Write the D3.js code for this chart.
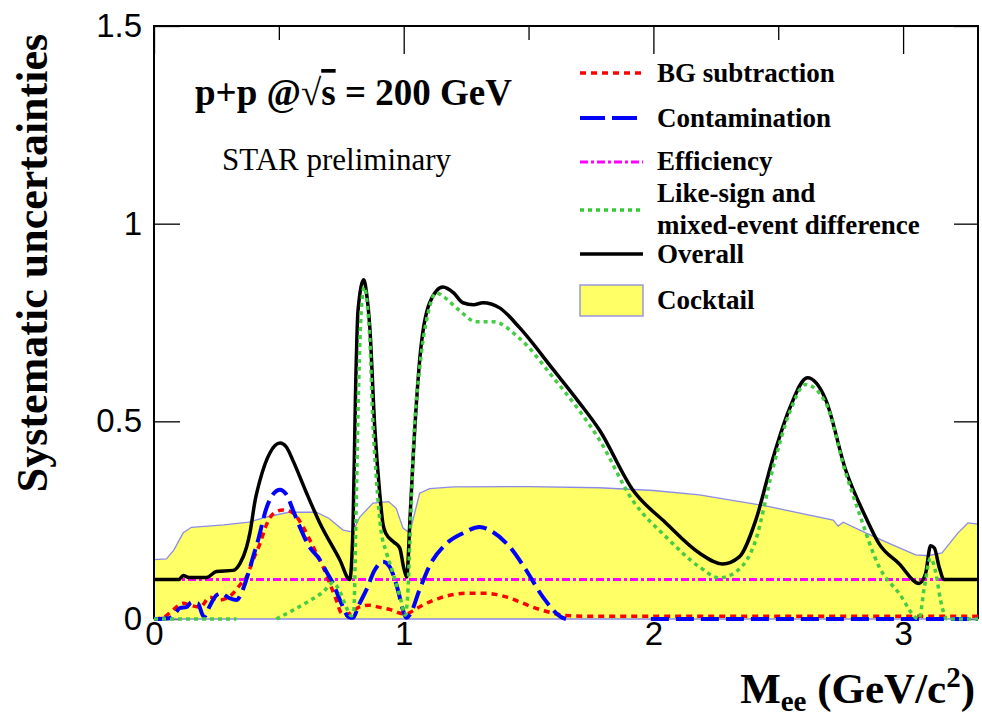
<!DOCTYPE html>
<html>
<head>
<meta charset="utf-8">
<script src="https://cdn.jsdelivr.net/npm/d3@7/dist/d3.min.js"></script>
<style>
  html, body { margin: 0; padding: 0; background: #fff; }
  svg { display: block; }
  .serif { font-family: "Liberation Serif", "Times New Roman", serif; }
  .tick text { font-family: "Liberation Sans", Arial, sans-serif; font-size: 33px; fill: #000; }
</style>
</head>
<body>
<svg id="chart" width="982" height="720"></svg>
<script>
// Invariant mass axis (GeV/c^2) and systematic uncertainty per source, as [mass, value] pairs
const xTicksMajor = [0, 1, 2, 3];
const xTicksMinor = [0.5, 1.5, 2.5];
const yTicks = [0, 0.5, 1, 1.5];

const cocktail = [
  [0, 0.15], [0.05, 0.152], [0.08, 0.175], [0.117, 0.218], [0.15, 0.232], [0.28, 0.238],
  [0.38, 0.245], [0.45, 0.258], [0.54, 0.27], [0.65, 0.27], [0.7, 0.255], [0.757, 0.225],
  [0.797, 0.22], [0.824, 0.258], [0.877, 0.293], [0.94, 0.297], [0.97, 0.28], [0.997, 0.23],
  [1.024, 0.218], [1.064, 0.318], [1.104, 0.33], [1.2, 0.334], [1.5, 0.335], [1.784, 0.332],
  [2.0, 0.325], [2.184, 0.314], [2.45, 0.286], [2.72, 0.25], [2.74, 0.235], [2.76, 0.245],
  [2.85, 0.218], [2.96, 0.187], [3.05, 0.162], [3.1, 0.16], [3.156, 0.167], [3.22, 0.218],
  [3.26, 0.243], [3.3, 0.24]
];

const bgSubtraction = [
  [0, 0], [0.04, 0.005], [0.08, 0.025], [0.117, 0.04], [0.144, 0.035], [0.184, 0.03],
  [0.224, 0.055], [0.264, 0.048], [0.317, 0.065], [0.344, 0.086], [0.37, 0.106], [0.397, 0.15],
  [0.424, 0.19], [0.45, 0.238], [0.477, 0.266], [0.517, 0.276], [0.557, 0.268], [0.597, 0.233],
  [0.637, 0.183], [0.677, 0.132], [0.704, 0.09], [0.73, 0.048], [0.75, 0.015], [0.77, 0.01],
  [0.8, 0.022], [0.83, 0.032], [0.865, 0.035], [0.9, 0.03], [0.95, 0.023], [0.99, 0.014],
  [1.01, 0.013], [1.04, 0.022], [1.07, 0.033], [1.144, 0.053], [1.25, 0.065], [1.33, 0.065],
  [1.41, 0.056], [1.47, 0.042], [1.517, 0.03], [1.597, 0.015], [1.65, 0.009], [1.75, 0.007],
  [2.5, 0.007], [3.3, 0.007]
];

const contamination = [
  [0, 0], [0.06, 0.002], [0.085, 0.015], [0.105, 0.028], [0.13, 0.03], [0.15, 0.042],
  [0.175, 0.04], [0.2, 0.005], [0.225, 0.035], [0.25, 0.06], [0.27, 0.065], [0.3, 0.053],
  [0.33, 0.048], [0.355, 0.073], [0.37, 0.1], [0.397, 0.157], [0.417, 0.2], [0.45, 0.28],
  [0.48, 0.318], [0.504, 0.327], [0.53, 0.315], [0.56, 0.27], [0.584, 0.233], [0.62, 0.185],
  [0.664, 0.15], [0.69, 0.12], [0.717, 0.09], [0.75, 0.04], [0.78, 0.005], [0.797, 0.003],
  [0.82, 0.035], [0.85, 0.073], [0.884, 0.124], [0.917, 0.145], [0.944, 0.132], [0.977, 0.073],
  [0.997, 0.023], [1.01, 0.003], [1.024, 0.01], [1.064, 0.075], [1.104, 0.135], [1.17, 0.19],
  [1.237, 0.217], [1.304, 0.233], [1.357, 0.22], [1.424, 0.183], [1.49, 0.124], [1.557, 0.056],
  [1.637, 0.003], [1.65, 0], [1.66, null], [1.98, null], [1.99, 0], [3.3, 0]
];

const efficiency = [[0, 0.1], [3.3, 0.1]];

const likeSignMixed = [
  [0, 0], [0.33, 0], [0.34, null], [0.48, null], [0.49, 0], [0.55, 0.02], [0.62, 0.045],
  [0.68, 0.07], [0.716, 0.092], [0.74, 0.075], [0.77, 0.03], [0.79, 0.008], [0.8, 0.02],
  [0.81, 0.3], [0.82, 0.6], [0.83, 0.78], [0.842, 0.84], [0.855, 0.79], [0.865, 0.7],
  [0.875, 0.52], [0.89, 0.36], [0.91, 0.22], [0.93, 0.17], [0.96, 0.11], [0.99, 0.045],
  [1.005, 0.01], [1.015, 0.05], [1.025, 0.2], [1.04, 0.45], [1.065, 0.64], [1.1, 0.78],
  [1.13, 0.825], [1.16, 0.815], [1.224, 0.78], [1.29, 0.752], [1.357, 0.752], [1.464, 0.71],
  [1.6, 0.61], [1.7, 0.53], [1.784, 0.453], [1.917, 0.3], [2.05, 0.208], [2.184, 0.132],
  [2.264, 0.104], [2.34, 0.124], [2.41, 0.2], [2.477, 0.377], [2.544, 0.52], [2.61, 0.593],
  [2.69, 0.547], [2.77, 0.37], [2.824, 0.268], [2.904, 0.132], [2.984, 0.065], [3.064, 0],
  [3.085, 0.08], [3.11, 0.154], [3.13, 0.12], [3.15, 0.048], [3.176, 0], [3.3, 0]
];

const overall = [
  [0, 0.1], [0.1, 0.1], [0.117, 0.11], [0.14, 0.105], [0.21, 0.105], [0.25, 0.12],
  [0.317, 0.123], [0.344, 0.14], [0.37, 0.18], [0.384, 0.217], [0.405, 0.3], [0.424, 0.35],
  [0.464, 0.42], [0.505, 0.445], [0.53, 0.435], [0.557, 0.4], [0.61, 0.32], [0.664, 0.243],
  [0.744, 0.15], [0.784, 0.1], [0.797, 0.233], [0.807, 0.57], [0.817, 0.78], [0.84, 0.858],
  [0.852, 0.82], [0.864, 0.74], [0.884, 0.486], [0.904, 0.318], [0.917, 0.24], [0.93, 0.215],
  [0.96, 0.195], [0.984, 0.18], [1.0, 0.13], [1.012, 0.106], [1.025, 0.25], [1.037, 0.4],
  [1.064, 0.655], [1.104, 0.8], [1.157, 0.84], [1.2, 0.825], [1.237, 0.8], [1.28, 0.795],
  [1.317, 0.8], [1.384, 0.787], [1.464, 0.737], [1.6, 0.63], [1.7, 0.55], [1.784, 0.478],
  [1.917, 0.327], [2.05, 0.243], [2.184, 0.167], [2.277, 0.139], [2.344, 0.157], [2.41, 0.25],
  [2.477, 0.403], [2.544, 0.53], [2.617, 0.61], [2.69, 0.555], [2.77, 0.377], [2.85, 0.258],
  [2.904, 0.19], [2.984, 0.14], [3.064, 0.09], [3.09, 0.115], [3.11, 0.185], [3.125, 0.18],
  [3.145, 0.13], [3.164, 0.1], [3.3, 0.1]
];

const legendItems = [
  { label: ["BG subtraction"], color: "#ff0000", dash: "6,5", width: 3.5 },
  { label: ["Contamination"], color: "#0000ff", dash: "25,7", width: 4 },
  { label: ["Efficiency"], color: "#ff00ff", dash: "8,3,3,3", width: 3 },
  { label: ["Like-sign and", "mixed-event difference"], color: "#33cc33", dash: "4,4", width: 3.5 },
  { label: ["Overall"], color: "#000000", dash: null, width: 3.5 },
  { label: ["Cocktail"], fill: "#ffff66" }
];

const svg = d3.select("#chart");
const x = d3.scaleLinear().domain([0, 3.3]).range([154, 978]);
const y = d3.scaleLinear().domain([0, 1.5]).range([619, 26]);

// Axes with inward ticks (drawn first so the cocktail band covers the lower ones)
const gx = svg.append("g").attr("transform", `translate(0,${y(0)})`)
  .call(d3.axisBottom(x).tickValues(xTicksMajor).tickFormat(d3.format("d"))
    .tickSizeInner(-28).tickSizeOuter(0).tickPadding(3));
gx.select(".domain").remove();
svg.append("g").attr("transform", `translate(0,${y(0)})`)
  .call(d3.axisBottom(x).tickValues(xTicksMinor).tickFormat("").tickSizeInner(-14).tickSizeOuter(0))
  .select(".domain").remove();
svg.append("g").attr("transform", `translate(0,${y(1.5)})`)
  .call(d3.axisBottom(x).tickValues(xTicksMajor).tickFormat("").tickSizeInner(28).tickSizeOuter(0))
  .select(".domain").remove();
svg.append("g").attr("transform", `translate(0,${y(1.5)})`)
  .call(d3.axisBottom(x).tickValues(xTicksMinor).tickFormat("").tickSizeInner(14).tickSizeOuter(0))
  .select(".domain").remove();

const gy = svg.append("g").attr("transform", `translate(${x(0)},0)`)
  .call(d3.axisLeft(y).tickValues(yTicks).tickFormat(d => d === 0 ? "0" : d3.format("~g")(d))
    .tickSizeInner(-26).tickSizeOuter(0).tickPadding(12));
gy.select(".domain").remove();
svg.append("g").attr("transform", `translate(${x(3.3)},0)`)
  .call(d3.axisRight(y).tickValues(yTicks).tickFormat("").tickSizeInner(-24).tickSizeOuter(0))
  .select(".domain").remove();
svg.selectAll(".tick line").attr("stroke", "#000").attr("stroke-width", 1.3);

// Cocktail band
const area = d3.area().x(d => x(d[0])).y0(y(0)).y1(d => y(d[1])).curve(d3.curveLinear);
svg.append("path").datum(cocktail)
  .attr("d", area)
  .attr("fill", "#ffff66")
  .attr("stroke", "#8c8ce6")
  .attr("stroke-width", 1.3);

// Frame (top, left, right)
const frame = svg.append("g").attr("stroke", "#000").attr("stroke-width", 2).attr("fill", "none");
frame.append("path").attr("d", `M${x(0)},${y(0)}V${y(1.5)}H${x(3.3)}V${y(0)}`);

// Uncertainty curves
const line = d3.line()
  .defined(d => d[1] !== null)
  .x(d => x(d[0])).y(d => y(d[1]))
  .curve(d3.curveMonotoneX);

function drawCurve(data, color, dash, width) {
  svg.append("path").datum(data)
    .attr("d", line)
    .attr("fill", "none")
    .attr("stroke", color)
    .attr("stroke-width", width)
    .attr("stroke-dasharray", dash)
    .attr("stroke-linejoin", "round");
}
drawCurve(efficiency, "#ff00ff", "8,3,3,3", 3);
drawCurve(bgSubtraction, "#ff0000", "6,5", 3.5);
drawCurve(contamination, "#0000ff", "18,7", 4);
drawCurve(overall, "#000000", null, 3.5);
drawCurve(likeSignMixed, "#44cc44", "4,4", 3.5);

// Annotations
const note = svg.append("text").attr("class", "serif")
  .attr("x", 195).attr("y", 105)
  .attr("font-size", 37).attr("font-weight", "bold");
note.append("tspan").text("p+p @");
note.append("tspan").attr("font-weight", "normal").text("\u221A");
note.append("tspan").attr("text-decoration", "overline").text("s");
note.append("tspan").text(" = 200 GeV");

svg.append("text").attr("class", "serif")
  .attr("x", 222).attr("y", 170)
  .attr("font-size", 31)
  .text("STAR preliminary");

// Legend
const legendRows = [82, 127, 170, 202, 263, 309];
const legendLineY = [73, 118, 162, 210, 254, 300];
legendItems.forEach((item, i) => {
  if (item.fill) {
    svg.append("rect").attr("x", 580).attr("y", 285).attr("width", 63).attr("height", 31)
      .attr("fill", item.fill).attr("stroke", "#9999dd").attr("stroke-width", 1.5);
  } else {
    svg.append("line").attr("x1", 580).attr("x2", 643)
      .attr("y1", legendLineY[i]).attr("y2", legendLineY[i])
      .attr("stroke", item.color).attr("stroke-width", item.width)
      .attr("stroke-dasharray", item.dash);
  }
  item.label.forEach((t, j) => {
    svg.append("text").attr("class", "serif")
      .attr("x", 657).attr("y", legendRows[i] + j * 32)
      .attr("font-size", 27).attr("font-weight", "bold")
      .text(t);
  });
});

// Axis titles
svg.append("text").attr("class", "serif")
  .attr("transform", "translate(47,263) rotate(-90)")
  .attr("text-anchor", "middle")
  .attr("font-size", 44).attr("font-weight", "bold")
  .text("Systematic uncertainties");

const xt = svg.append("text").attr("class", "serif")
  .attr("x", 975).attr("y", 703)
  .attr("text-anchor", "end")
  .attr("font-size", 43).attr("font-weight", "bold");
xt.append("tspan").text("M");
xt.append("tspan").attr("font-size", 29).attr("dy", 8).text("ee");
xt.append("tspan").attr("dy", -8).text(" (GeV/c");
xt.append("tspan").attr("font-size", 29).attr("dy", -16).text("2");
xt.append("tspan").attr("dy", 16).text(")");
</script>
</body>
</html>
